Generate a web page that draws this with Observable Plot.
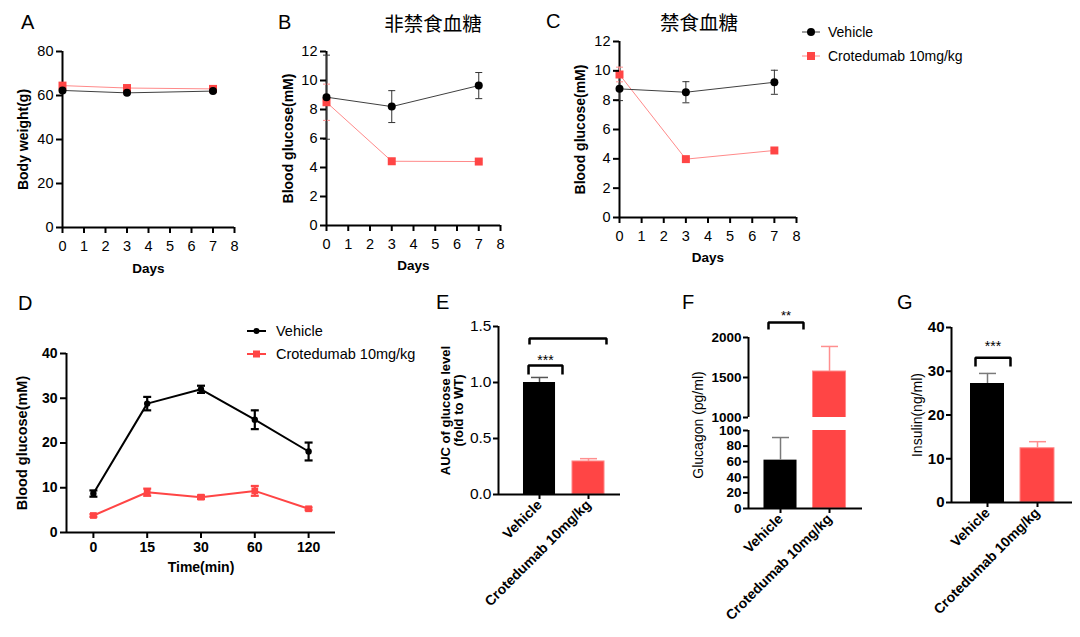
<!DOCTYPE html>
<html><head><meta charset="utf-8">
<script src="https://cdn.jsdelivr.net/npm/d3@7"></script>
<script src="https://cdn.jsdelivr.net/npm/@observablehq/plot@0.6"></script>
<style>
body{margin:0;background:#fff;}
#fig{position:relative;width:1080px;height:637px;overflow:hidden;background:#fff;}
</style>
</head><body>
<div id="fig"></div>
<script>
// ---------------- DATA ----------------
const groups = ["Vehicle", "Crotedumab 10mg/kg"];
const days = [0, 3, 7];
const dayTicks = [0, 1, 2, 3, 4, 5, 6, 7, 8];

const weightVehicle = [62.3, 61.2, 62.0];
const weightVehicleErr = [0.4, 0.4, 0.4];
const weightCrote = [64.5, 63.4, 63.0];
const weightCroteErr = [0.4, 0.4, 0.3];

const fedVehicle = [8.85, 8.2, 9.65];
const fedVehicleErr = [2.9, 1.1, 0.9];
const fedCrote = [8.5, 4.43, 4.41];
const fedCroteErr = [1.25, 0.2, 0.1];

const fastVehicle = [8.77, 8.54, 9.22];
const fastVehicleErr = [0.8, 0.72, 0.82];
const fastCrote = [9.75, 3.98, 4.57];
const fastCroteErr = [0.5, 0.12, 0.1];

const times = ["0", "15", "30", "60", "120"];
const ogttVehicle = [8.7, 28.8, 32.0, 25.2, 18.1];
const ogttVehicleErr = [0.7, 1.5, 0.8, 2.1, 2.0];
const ogttCrote = [3.8, 9.0, 7.9, 9.3, 5.3];
const ogttCroteErr = [0.3, 0.8, 0.4, 1.1, 0.3];

const aucValues = [1.0, 0.295];
const aucErr = [0.045, 0.025];
const glucagonValues = [62, 1575];
const glucagonErr = [29, 313];
const insulinValues = [27.2, 12.4];
const insulinErr = [2.3, 1.5];

// ---------------- STYLE ----------------
const FONT = '"Liberation Sans", Arial, Helvetica, sans-serif';
const CJK = '"Noto Sans CJK SC", sans-serif';
const RED = "#ff4545";
const RED_LINE = "#ff8a8a";
const RED_ERR = "#ff8f8f";
const DARK_LINE = "#404040";
const GRAY_ERR = "#7a7a7a";
const fig = document.getElementById("fig");

const cap = {draw(ctx, size) { const w = Math.sqrt(size / Math.PI); ctx.moveTo(-w, 0); ctx.lineTo(w, 0); }};

function mount(svg, left, top) {
  svg.style.position = "absolute";
  svg.style.left = left + "px";
  svg.style.top = top + "px";
  svg.style.maxWidth = "none";
  svg.style.overflow = "visible";
  svg.style.background = "transparent";
  fig.appendChild(svg);
}
const baseStyle = {fontFamily: FONT, background: "transparent", overflow: "visible", color: "black"};

// tick axis + separate title axis so each can have its own font
function axes(axisFn, tick, title) {
  const out = [axisFn({...tick, strokeWidth: 2, label: null})];
  if (title) out.push(axisFn({ticks: [], tickSize: 0, label: title.text, labelArrow: false, labelAnchor: "center",
    labelOffset: title.offset, fontSize: title.fontSize, fontWeight: title.fontWeight, lineHeight: title.lineHeight}));
  return out;
}

function linePanel(p) {
  const marks = [];
  const rows = p.series.map(s => p.xs.map((x, i) => ({x, y: s.values[i], e: s.err[i]})));
  marks.push(Plot.ruleY([p.yDomain[0]], {strokeWidth: 2}));
  marks.push(Plot.ruleX([p.xDomain[0]], {strokeWidth: 2}));
  p.series.forEach((s, k) => {
    const r = rows[k];
    marks.push(Plot.ruleX(r, {x: "x", y1: d => d.y - d.e, y2: d => d.y + d.e, stroke: s.errColor, strokeWidth: p.errWidth}));
    marks.push(Plot.dot(r, {x: "x", y: d => d.y - d.e, symbol: cap, r: p.capR, fill: "none", stroke: s.errColor, strokeWidth: p.errWidth}));
    marks.push(Plot.dot(r, {x: "x", y: d => d.y + d.e, symbol: cap, r: p.capR, fill: "none", stroke: s.errColor, strokeWidth: p.errWidth}));
  });
  p.series.forEach((s, k) => marks.push(Plot.line(rows[k], {x: "x", y: "y", stroke: s.lineColor, strokeWidth: p.lineWidth})));
  p.series.forEach((s, k) => marks.push(Plot.dot(rows[k], {x: "x", y: "y", symbol: s.symbol, r: s.r, fill: s.color, stroke: "none"})));
  marks.push(...axes(Plot.axisY,
    {ticks: p.yTicks, tickSize: 6, tickPadding: 3, fontSize: p.tickFont, fontWeight: p.tickWeight},
    {text: p.ylabel, offset: p.ylabelOffset, fontSize: p.yTitleFont, fontWeight: p.yTitleWeight}));
  marks.push(...axes(Plot.axisX,
    {ticks: p.xTicks, tickFormat: p.xFormat, tickSize: 6, tickPadding: p.xPad, fontSize: p.tickFont, fontWeight: p.tickWeight},
    {text: p.xlabel, offset: p.xlabelOffset, fontSize: p.xTitleFont, fontWeight: "bold"}));
  const svg = Plot.plot({
    width: p.width, height: p.height,
    marginLeft: p.m[0], marginRight: p.m[1], marginTop: p.m[2], marginBottom: p.m[3],
    x: {domain: p.xDomain}, y: {domain: p.yDomain},
    style: baseStyle, marks
  });
  mount(svg, p.left, p.top);
}

function smallSeries(vehicle, vehicleErr, crote, croteErr) {
  return [
    {values: crote, err: croteErr, color: RED, lineColor: RED_LINE, errColor: RED_ERR, symbol: "square", r: 4.5},
    {values: vehicle, err: vehicleErr, color: "black", lineColor: DARK_LINE, errColor: "#333", symbol: "circle", r: 4}
  ];
}
const smallText = {tickFont: 14.5, tickWeight: "normal", yTitleFont: 14, yTitleWeight: "bold", xTitleFont: 13.5};

// Panel A
linePanel({...smallText, left: 0, top: 0, width: 250, height: 285, m: [62, 16, 51, 58],
  xs: days, xDomain: [0, 8], xTicks: dayTicks, yDomain: [0, 80], yTicks: [0, 20, 40, 60, 80],
  series: smallSeries(weightVehicle, weightVehicleErr, weightCrote, weightCroteErr),
  errWidth: 1, capR: 3.5, lineWidth: 1, xPad: 7,
  ylabel: "Body weight(g)", ylabelOffset: 44, xlabel: "Days", xlabelOffset: 45});
// Panel B
linePanel({...smallText, left: 260, top: 0, width: 250, height: 285, m: [66, 10, 51, 60],
  xs: days, xDomain: [0, 8], xTicks: dayTicks, yDomain: [0, 12], yTicks: [0, 2, 4, 6, 8, 10, 12],
  series: smallSeries(fedVehicle, fedVehicleErr, fedCrote, fedCroteErr),
  errWidth: 1, capR: 3.5, lineWidth: 1, xPad: 7,
  ylabel: "Blood glucose(mM)", ylabelOffset: 43, xlabel: "Days", xlabelOffset: 44});
// Panel C
linePanel({...smallText, left: 540, top: 0, width: 265, height: 280, m: [79, 9, 41, 63],
  xs: days, xDomain: [0, 8], xTicks: dayTicks, yDomain: [0, 12], yTicks: [0, 2, 4, 6, 8, 10, 12],
  series: smallSeries(fastVehicle, fastVehicleErr, fastCrote, fastCroteErr),
  errWidth: 1, capR: 3.5, lineWidth: 1, xPad: 7,
  ylabel: "Blood glucose(mM)", ylabelOffset: 44, xlabel: "Days", xlabelOffset: 44});
// Panel D
linePanel({tickFont: 14, tickWeight: "bold", yTitleFont: 14.5, yTitleWeight: "bold", xTitleFont: 14,
  left: 0, top: 300, width: 345, height: 285, m: [66, 10, 53, 53],
  xs: times.map((t, i) => i), xDomain: [-0.5, 4.5], xTicks: times.map((t, i) => i), xFormat: i => times[i],
  yDomain: [0, 40], yTicks: [0, 10, 20, 30, 40],
  series: [
    {values: ogttCrote, err: ogttCroteErr, color: RED, lineColor: RED, errColor: RED, symbol: "square", r: 3.8},
    {values: ogttVehicle, err: ogttVehicleErr, color: "black", lineColor: "black", errColor: "black", symbol: "circle", r: 3.2}
  ],
  errWidth: 2.2, capR: 4, lineWidth: 2, xPad: 4,
  ylabel: "Blood glucose(mM)", ylabelOffset: 50, xlabel: "Time(min)", xlabelOffset: 39});

// ---------------- BAR PANELS ----------------
function barMarks(p, opts) {
  const rows = groups.map((g, i) => ({i, v: p.values[i], e: p.err[i], fill: i ? RED : "black",
    edge: i ? RED_LINE : "none", errColor: p.errColors[i]}));
  const shown = rows.filter(d => opts.showBar(d));
  const marks = [];
  marks.push(Plot.rectY(shown, {x1: d => d.i - p.hw, x2: d => d.i + p.hw, y1: () => 0, y2: "v", fill: "fill", stroke: "edge", strokeWidth: 1, clip: true}));
  const errRows = rows.filter(d => opts.showErr(d));
  marks.push(Plot.ruleX(errRows, {x: "i", y1: "v", y2: d => d.v + d.e, stroke: "errColor", strokeWidth: 1.5}));
  marks.push(Plot.dot(errRows, {x: "i", y: d => d.v + d.e, symbol: cap, r: 8.5, fill: "none", stroke: "errColor", strokeWidth: 1.5}));
  marks.push(Plot.ruleX([p.xDomain[0]], {strokeWidth: 2}));
  return marks;
}
function bracketMarks(brackets, fontSize) {
  const pts = brackets.flatMap((b, k) => [
    {k, x: b.x1, y: b.low}, {k, x: b.x1, y: b.high}, {k, x: b.x2, y: b.high}, {k, x: b.x2, y: b.low}]);
  return [
    Plot.line(pts, {x: "x", y: "y", z: "k", stroke: "black", strokeWidth: 2.5, strokeLinejoin: "miter", strokeLinecap: "butt"}),
    Plot.text(brackets.filter(b => b.stars), {x: b => (b.x1 + b.x2) / 2, y: "starY", text: "stars", fontSize, lineAnchor: "middle"})
  ];
}
const xCatAxis = () => Plot.axisX({ticks: [0, 1], tickFormat: i => groups[i], tickRotate: -45, tickSize: 5, tickPadding: 3,
  strokeWidth: 2, label: null, fontSize: 14, fontWeight: "bold"});

// Panel E
{
  const p = {values: aucValues, err: aucErr, errColors: ["#555", RED_ERR], hw: 0.327, xDomain: [-0.837, 1.653]};
  const marks = barMarks(p, {showBar: () => true, showErr: () => true});
  marks.push(Plot.ruleY([0], {strokeWidth: 2}));
  marks.push(...bracketMarks([
    {x1: -0.204, x2: 1.367, high: 1.393, low: 1.339, stars: ""},
    {x1: -0.224, x2: 0.469, high: 1.152, low: 1.071, stars: "***", starY: 1.196}
  ], 14));
  marks.push(...axes(Plot.axisY,
    {ticks: [0, 0.5, 1.0, 1.5], tickFormat: ".1f", tickSize: 5, tickPadding: 2, fontSize: 15.5},
    {text: "AUC of glucose level\n(fold to WT)", offset: 58, fontSize: 13, fontWeight: "bold", lineHeight: 1.3}));
  marks.push(xCatAxis());
  const svg = Plot.plot({width: 200, height: 320, marginLeft: 68, marginRight: 10, marginTop: 26, marginBottom: 126,
    x: {domain: p.xDomain}, y: {domain: [0, 1.5]}, color: {type: "identity"}, style: baseStyle, marks});
  mount(svg, 430, 300);
}
// Panel F (broken axis: upper segment 1000–2000, lower segment 0–100)
{
  const p = {values: glucagonValues, err: glucagonErr, errColors: [GRAY_ERR, RED_ERR], hw: 0.337, xDomain: [-0.653, 1.673]};
  const upMarks = barMarks(p, {showBar: d => d.v > 1000, showErr: d => d.v > 1000});
  upMarks.push(...bracketMarks([{x1: -0.245, x2: 0.469, high: 2187, low: 2100, stars: "**", starY: 2275}], 13));
  upMarks.push(...axes(Plot.axisY, {ticks: [1000, 1500, 2000], tickFormat: "d", tickSize: 5, tickPadding: 2, fontSize: 13.5, fontWeight: "bold"}));
  const up = Plot.plot({width: 200, height: 120, marginLeft: 68, marginRight: 18, marginTop: 37, marginBottom: 3,
    x: {domain: p.xDomain, axis: null}, y: {domain: [1000, 2000]}, color: {type: "identity"}, style: baseStyle, marks: upMarks});
  mount(up, 680, 300);

  const loMarks = barMarks(p, {showBar: () => true, showErr: d => d.v + d.e <= 100});
  loMarks.push(Plot.ruleY([0], {strokeWidth: 2}));
  loMarks.push(...axes(Plot.axisY, {ticks: [0, 20, 40, 60, 80, 100], tickFormat: "d", tickSize: 5, tickPadding: 2, fontSize: 13.5, fontWeight: "bold"}));
  loMarks.push(xCatAxis());
  const lo = Plot.plot({width: 200, height: 200, marginLeft: 68, marginRight: 18, marginTop: 10, marginBottom: 112,
    x: {domain: p.xDomain}, y: {domain: [0, 100]}, color: {type: "identity"}, style: baseStyle, marks: loMarks});
  mount(lo, 680, 420);
}
// Panel G
{
  const p = {values: insulinValues, err: insulinErr, errColors: [GRAY_ERR, RED_ERR], hw: 0.34, xDomain: [-0.72, 1.7]};
  const marks = barMarks(p, {showBar: () => true, showErr: () => true});
  marks.push(Plot.ruleY([0], {strokeWidth: 2}));
  marks.push(...bracketMarks([{x1: -0.24, x2: 0.46, high: 33.1, low: 31.1, stars: "***", starY: 35.7}], 14));
  marks.push(...axes(Plot.axisY,
    {ticks: [0, 10, 20, 30, 40], tickSize: 5, tickPadding: 2, fontSize: 15, fontWeight: "bold"},
    {text: "Insulin(ng/ml)", offset: 39, fontSize: 14, fontWeight: "normal"}));
  marks.push(xCatAxis());
  const svg = Plot.plot({width: 200, height: 320, marginLeft: 71, marginRight: 8, marginTop: 27, marginBottom: 118,
    x: {domain: p.xDomain}, y: {domain: [0, 40]}, color: {type: "identity"}, style: baseStyle, marks});
  mount(svg, 880, 300);
}

// ---------------- ANNOTATIONS (letters, titles, legends) ----------------
const ov = d3.create("svg").attr("width", 1080).attr("height", 637)
  .style("position", "absolute").style("left", "0px").style("top", "0px").style("overflow", "visible")
  .style("font-family", FONT);
const letters = [["A", 21, 29], ["B", 278, 29], ["C", 546, 28], ["D", 18, 310], ["E", 436, 309], ["F", 682, 309], ["G", 897, 309]];
ov.selectAll("text.letter").data(letters).join("text").attr("class", "letter")
  .attr("x", d => d[1]).attr("y", d => d[2]).attr("font-size", 20).text(d => d[0]);
const titles = [["非禁食血糖", 433, 31], ["禁食血糖", 699, 30]];
ov.selectAll("text.title").data(titles).join("text").attr("class", "title")
  .attr("x", d => d[1]).attr("y", d => d[2]).attr("text-anchor", "middle")
  .attr("font-family", CJK).attr("font-size", 19.5).text(d => d[0]);
ov.append("text").attr("transform", "translate(698,425) rotate(-90)").attr("text-anchor", "middle")
  .attr("dominant-baseline", "central").attr("font-size", 14).text("Glucagon (pg/ml)");

function legend(o) {
  const g = ov.append("g").attr("transform", `translate(${o.x},${o.y})`);
  groups.forEach((name, i) => {
    const y = i * o.gap;
    g.append("line").attr("x1", 0).attr("x2", o.lineLen).attr("y1", y).attr("y2", y)
      .attr("stroke", i ? o.redLine : o.blackLine).attr("stroke-width", o.lw);
    if (i === 0) g.append("circle").attr("cx", o.lineLen / 2).attr("cy", y).attr("r", o.cr).attr("fill", "black");
    else g.append("rect").attr("x", o.lineLen / 2 - o.sq / 2).attr("y", y - o.sq / 2).attr("width", o.sq).attr("height", o.sq).attr("fill", RED);
    g.append("text").attr("x", o.textX).attr("y", y + o.fs * 0.36).attr("font-size", o.fs).text(name);
  });
}
legend({x: 802, y: 32, gap: 24, lineLen: 18, lw: 1, blackLine: DARK_LINE, redLine: RED_LINE, cr: 4, sq: 8, textX: 26, fs: 14});
legend({x: 247, y: 331, gap: 23, lineLen: 19, lw: 2, blackLine: "black", redLine: RED, cr: 3, sq: 7, textX: 29, fs: 14.5});
fig.appendChild(ov.node());
</script>
</body></html>
